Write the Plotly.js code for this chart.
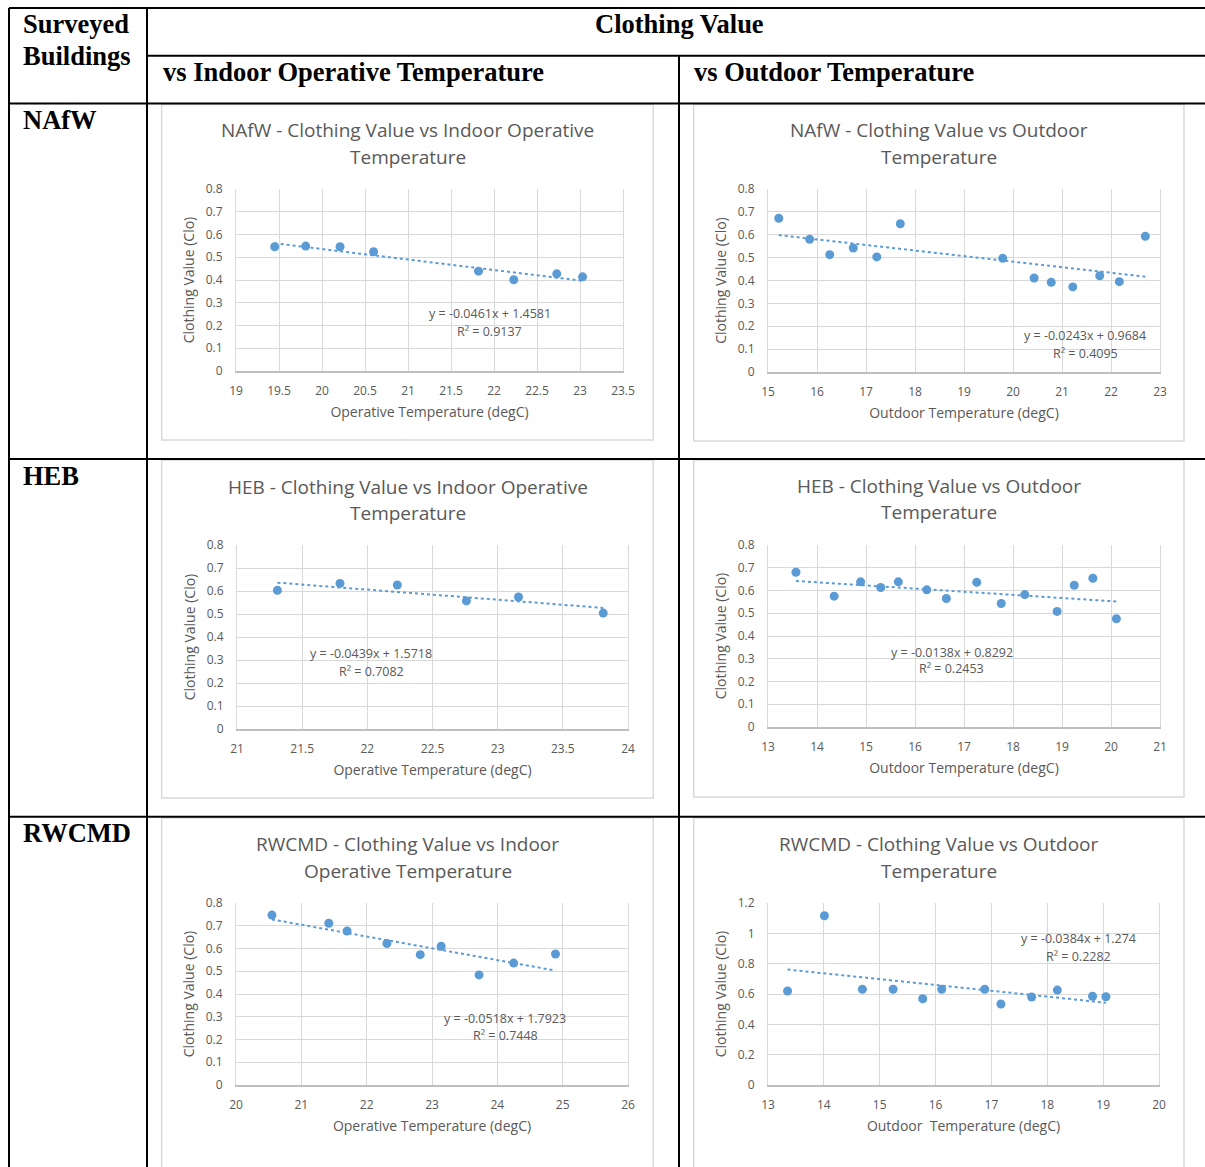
<!DOCTYPE html>
<html>
<head>
<meta charset="utf-8">
<script src="https://cdn.plot.ly/plotly-3.0.1.min.js"></script>
<style>
  html, body { margin: 0; padding: 0; background: #ffffff; }
  #chart { width: 1205px; height: 1167px; }
</style>
</head>
<body>
<div id="chart"></div>
<script>
// ---------------- DATA ----------------
const buildings = ["NAfW", "HEB", "RWCMD"];

// NAfW
const nafwIndoorTemp = [19.45, 19.81, 20.21, 20.60, 21.82, 22.23, 22.73, 23.03];
const nafwIndoorClo  = [0.546, 0.549, 0.546, 0.524, 0.439, 0.401, 0.427, 0.414];
const nafwOutdoorTemp = [15.22, 15.85, 16.26, 16.74, 17.22, 17.70, 19.79, 20.43, 20.78, 21.22, 21.77, 22.17, 22.70];
const nafwOutdoorClo  = [0.672, 0.580, 0.513, 0.542, 0.503, 0.648, 0.497, 0.411, 0.392, 0.372, 0.421, 0.395, 0.593];

// HEB
const hebIndoorTemp = [21.31, 21.79, 22.23, 22.76, 23.16, 23.81];
const hebIndoorClo  = [0.603, 0.633, 0.626, 0.557, 0.574, 0.504];
const hebOutdoorTemp = [13.57, 14.35, 14.89, 15.30, 15.66, 16.24, 16.64, 17.26, 17.76, 18.24, 18.90, 19.25, 19.63, 20.11];
const hebOutdoorClo  = [0.680, 0.575, 0.638, 0.613, 0.638, 0.603, 0.565, 0.636, 0.543, 0.582, 0.508, 0.623, 0.654, 0.476];

// RWCMD
const rwcmdIndoorTemp = [20.55, 21.42, 21.70, 22.31, 22.82, 23.14, 23.72, 24.25, 24.89];
const rwcmdIndoorClo  = [0.747, 0.711, 0.677, 0.622, 0.573, 0.610, 0.484, 0.536, 0.576];
const rwcmdOutdoorTemp = [13.35, 14.01, 14.69, 15.24, 15.77, 16.11, 16.88, 17.17, 17.72, 18.18, 18.81, 19.05];
const rwcmdOutdoorClo  = [0.620, 1.116, 0.631, 0.631, 0.569, 0.631, 0.631, 0.534, 0.580, 0.626, 0.585, 0.582];

// Linear trend lines shown on each chart (slope, intercept, R squared)
const trendSlope     = [-0.0461, -0.0243, -0.0439, -0.0138, -0.0518, -0.0384];
const trendIntercept = [1.4581, 0.9684, 1.5718, 0.8292, 1.7923, 1.274];
const trendR2        = ["0.9137", "0.4095", "0.7082", "0.2453", "0.7448", "0.2282"];
const trendInterceptText = ["1.4581", "0.9684", "1.5718", "0.8292", "1.7923", "1.274"];

// Titles
const chartTitles = [
  ["NAfW - Clothing Value vs Indoor Operative", "Temperature"],
  ["NAfW - Clothing Value vs Outdoor", "Temperature"],
  ["HEB - Clothing Value vs Indoor Operative", "Temperature"],
  ["HEB - Clothing Value vs Outdoor", "Temperature"],
  ["RWCMD - Clothing Value vs Indoor", "Operative Temperature"],
  ["RWCMD - Clothing Value vs Outdoor", "Temperature"]
];
const xTitles = ["Operative Temperature (degC)", "Outdoor Temperature (degC)",
                 "Operative Temperature (degC)", "Outdoor Temperature (degC)",
                 "Operative Temperature (degC)", "Outdoor  Temperature (degC)"];
const yTitle = "Clothing Value (Clo)";
const headerMain = "Clothing Value";
const headerFirst = ["Surveyed", "Buildings"];
const headerCols = ["vs Indoor Operative Temperature", "vs Outdoor Temperature"];

// ---------------- LAYOUT ----------------
const W = 1205, H = 1167;
const px = x => x / W;
const py = y => 1 - y / H;

const seriesX = [nafwIndoorTemp, nafwOutdoorTemp, hebIndoorTemp, hebOutdoorTemp, rwcmdIndoorTemp, rwcmdOutdoorTemp];
const seriesY = [nafwIndoorClo, nafwOutdoorClo, hebIndoorClo, hebOutdoorClo, rwcmdIndoorClo, rwcmdOutdoorClo];

// plot areas in pixels [x0, x1, y0(top), y1(bottom)]
const plotBoxes = [
  [236, 623, 189, 371],
  [768, 1160, 189, 372],
  [237, 628, 545, 729],
  [768, 1160, 545, 727],
  [236, 628, 903, 1085],
  [768, 1159, 903, 1085]
];
const xRanges = [[19, 23.5], [15, 23], [21, 24], [13, 21], [20, 26], [13, 20]];
const xDticks = [0.5, 1, 0.5, 1, 1, 1];
const yRanges = [[0, 0.8], [0, 0.8], [0, 0.8], [0, 0.8], [0, 0.8], [0, 1.2]];
const yDticks = [0.1, 0.1, 0.1, 0.1, 0.1, 0.2];
// chart frame boxes in pixels [x0, y0, x1, y1]
const frames = [
  [161.7, 104.5, 653.3, 440],
  [693.7, 104.5, 1184, 441],
  [161.7, 460, 653.3, 798],
  [693.7, 460, 1184, 797],
  [161.7, 818, 653.3, 1175],
  [693.7, 818, 1184, 1175]
];
const titleCenters = [[407.5, 130, 157], [938.8, 130, 157], [407.5, 487, 513], [938.8, 486, 512], [407.5, 844, 871], [938.8, 844, 871]];
// equation label positions (data coordinates)
const eqPos = [[21.95, 0.252, 0.175], [21.47, 0.159, 0.082], [22.03, 0.328, 0.252], [16.75, 0.328, 0.257], [24.12, 0.294, 0.218], [18.56, 0.963, 0.848]];

const FONT = "Open Sans, Noto Sans, sans-serif";
const GRAY = "#595959";
const BLUE = "#5b9bd5";

const traces = [];
const layout = {
  width: W, height: H,
  margin: {l: 0, r: 0, t: 0, b: 0},
  paper_bgcolor: "#ffffff",
  plot_bgcolor: "#ffffff",
  showlegend: false,
  annotations: [],
  shapes: []
};

for (let i = 0; i < 6; i++) {
  const n = i + 1;
  const xa = "x" + (n === 1 ? "" : n), ya = "y" + (n === 1 ? "" : n);
  const xs = seriesX[i], ys = seriesY[i];
  traces.push({
    type: "scatter", mode: "markers", x: xs, y: ys, xaxis: xa, yaxis: ya,
    marker: {color: BLUE, size: 9}, hoverinfo: "x+y"
  });
  const xmin = Math.min(...xs), xmax = Math.max(...xs);
  traces.push({
    type: "scatter", mode: "lines",
    x: [xmin, xmax],
    y: [trendSlope[i] * xmin + trendIntercept[i], trendSlope[i] * xmax + trendIntercept[i]],
    xaxis: xa, yaxis: ya,
    line: {color: BLUE, width: 2, dash: "dot"}, hoverinfo: "skip"
  });
  const b = plotBoxes[i];
  layout["xaxis" + (n === 1 ? "" : n)] = {
    domain: [px(b[0]), px(b[1])], anchor: ya, range: xRanges[i], dtick: xDticks[i], tick0: 0,
    showgrid: true, gridcolor: "#d9d9d9", gridwidth: 1,
    showline: true, linecolor: "#bfbfbf", linewidth: 1.5, mirror: false,
    zeroline: false, ticks: "", ticklabelstandoff: 8,
    tickfont: {family: FONT, size: 12, color: GRAY},
    title: {text: xTitles[i], font: {family: FONT, size: 14, color: GRAY}, standoff: 9},
    fixedrange: true
  };
  layout["yaxis" + (n === 1 ? "" : n)] = {
    domain: [py(b[3]), py(b[2])], anchor: xa, range: yRanges[i], dtick: yDticks[i], tick0: 0,
    showgrid: true, gridcolor: "#d9d9d9", gridwidth: 1,
    showline: true, linecolor: "#d9d9d9", linewidth: 1, mirror: true,
    zeroline: false, ticks: "", ticklabelstandoff: 10,
    tickfont: {family: FONT, size: 12, color: GRAY},
    title: {text: yTitle, font: {family: FONT, size: 14, color: GRAY}, standoff: 7},
    fixedrange: true
  };
  // chart frame
  const f = frames[i];
  layout.shapes.push({
    type: "rect", xref: "paper", yref: "paper", layer: "below",
    x0: px(f[0]), x1: px(f[2]), y0: py(f[3]), y1: py(f[1]),
    line: {color: "#d9d9d9", width: 1.5}, fillcolor: "rgba(0,0,0,0)"
  });
  // chart title
  const t = titleCenters[i];
  layout.annotations.push({
    xref: "paper", yref: "paper", x: px(t[0]), y: py(t[1]), xanchor: "center", yanchor: "middle",
    text: chartTitles[i][0], showarrow: false, font: {family: FONT, size: 19, color: GRAY}
  });
  layout.annotations.push({
    xref: "paper", yref: "paper", x: px(t[0]), y: py(t[2]), xanchor: "center", yanchor: "middle",
    text: chartTitles[i][1], showarrow: false, font: {family: FONT, size: 19, color: GRAY}
  });
  // equation
  const e = eqPos[i];
  layout.annotations.push({
    xref: xa, yref: ya, x: e[0], y: e[1], xanchor: "center", yanchor: "middle",
    text: "y = " + trendSlope[i].toFixed(4) + "x + " + trendInterceptText[i],
    showarrow: false, font: {family: FONT, size: 12.5, color: GRAY}
  });
  layout.annotations.push({
    xref: xa, yref: ya, x: e[0], y: e[2], xanchor: "center", yanchor: "middle",
    text: "R² = " + trendR2[i],
    showarrow: false, font: {family: FONT, size: 12.5, color: GRAY}
  });
}

// table lines
const tableLines = [
  [9, 8, 1205, 8],
  [9, 8, 9, 1167],
  [147, 8, 147, 1167],
  [147, 55.7, 1205, 55.7],
  [679, 55.7, 679, 1167],
  [9, 103.5, 1205, 103.5],
  [9, 459, 1205, 459],
  [9, 816.7, 1205, 816.7]
];
tableLines.forEach(l => layout.shapes.push({
  type: "line", xref: "paper", yref: "paper", layer: "above",
  x0: px(l[0]), y0: py(l[1]), x1: px(l[2]), y1: py(l[3]),
  line: {color: "#000000", width: 2}
}));

const SERIF = "Liberation Serif, Times New Roman, serif";
function headerText(text, x, y, anchor) {
  layout.annotations.push({
    xref: "paper", yref: "paper", x: px(x), y: py(y), xanchor: anchor, yanchor: "middle",
    text: "<b>" + text + "</b>", showarrow: false,
    font: {family: SERIF, size: 26.5, color: "#000000"}
  });
}
headerText(headerFirst[0], 21, 24, "left");
headerText(headerFirst[1], 21, 56, "left");
headerText(headerMain, 679.5, 24, "center");
headerText(headerCols[0], 161, 72, "left");
headerText(headerCols[1], 692, 72, "left");
headerText(buildings[0], 21, 120, "left");
headerText(buildings[1], 21, 476, "left");
headerText(buildings[2], 21, 833, "left");

Plotly.newPlot("chart", traces, layout, {staticPlot: true, displayModeBar: false});
</script>
</body>
</html>
